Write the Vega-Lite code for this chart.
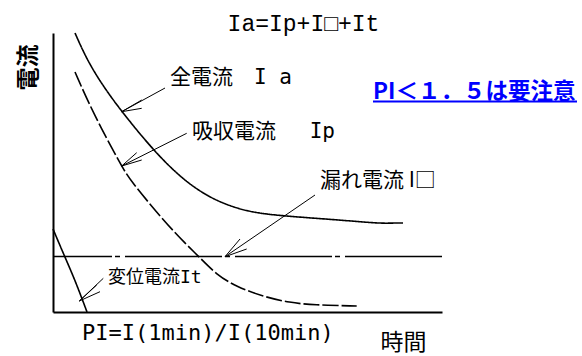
{
  "$schema": "https://vega.github.io/schema/vega-lite/v6.json",
  "autosize": "none",
  "width": 389,
  "height": 279,
  "padding": {"left": 53, "top": 33, "right": 140, "bottom": 44},
  "background": "white",
  "config": {"view": {"stroke": null}},
  "datasets": {
    "curves": [
      {"curve": "Ia", "x": 22, "y": 279},
      {"curve": "Ia", "x": 34, "y": 252},
      {"curve": "Ia", "x": 50, "y": 226},
      {"curve": "Ia", "x": 69, "y": 200},
      {"curve": "Ia", "x": 100, "y": 162},
      {"curve": "Ia", "x": 130, "y": 132},
      {"curve": "Ia", "x": 160, "y": 112},
      {"curve": "Ia", "x": 194, "y": 100},
      {"curve": "Ia", "x": 230, "y": 96},
      {"curve": "Ia", "x": 287, "y": 92},
      {"curve": "Ia", "x": 327, "y": 88.5},
      {"curve": "Ia", "x": 340, "y": 89},
      {"curve": "Ia", "x": 350, "y": 89},
      {"curve": "Ip", "x": 22, "y": 240},
      {"curve": "Ip", "x": 40, "y": 199},
      {"curve": "Ip", "x": 69, "y": 145},
      {"curve": "Ip", "x": 77, "y": 132},
      {"curve": "Ip", "x": 110, "y": 92},
      {"curve": "Ip", "x": 133.7, "y": 67},
      {"curve": "Ip", "x": 145.3, "y": 56},
      {"curve": "Ip", "x": 163.7, "y": 37},
      {"curve": "Ip", "x": 183.7, "y": 25.3},
      {"curve": "Ip", "x": 210.3, "y": 15.3},
      {"curve": "Ip", "x": 237, "y": 9.3},
      {"curve": "Ip", "x": 260.3, "y": 7},
      {"curve": "Ip", "x": 303.7, "y": 6},
      {"curve": "It", "x": 0, "y": 83},
      {"curve": "It", "x": 11, "y": 57},
      {"curve": "It", "x": 22, "y": 32},
      {"curve": "It", "x": 34, "y": 0}
    ],
    "leak": [{"curve": "漏れ電流", "y": 55.5}],
    "arrows": [
      {"arrow": "Ia", "x": 112, "y": 224, "x2": 68.7, "y2": 200.3},
      {"arrow": "Ia", "x": 88.7, "y": 212, "x2": 68.7, "y2": 200.3},
      {"arrow": "Ia", "x": 88.7, "y": 203.7, "x2": 68.7, "y2": 200.3},
      {"arrow": "Ip", "x": 133.7, "y": 178.7, "x2": 68.7, "y2": 146},
      {"arrow": "Ip", "x": 83.7, "y": 159.3, "x2": 68.7, "y2": 146},
      {"arrow": "Ip", "x": 88.7, "y": 152, "x2": 68.7, "y2": 146},
      {"arrow": "Il", "x": 262, "y": 117, "x2": 172, "y2": 55.3},
      {"arrow": "Il", "x": 187, "y": 73, "x2": 172, "y2": 55.3},
      {"arrow": "Il", "x": 193.7, "y": 63, "x2": 172, "y2": 55.3},
      {"arrow": "It", "x": 50.3, "y": 33.7, "x2": 26.3, "y2": 11},
      {"arrow": "It", "x": 43.7, "y": 27, "x2": 26.3, "y2": 11},
      {"arrow": "It", "x": 47, "y": 20.3, "x2": 26.3, "y2": 11}
    ]
  },
  "layer": [
    {
      "data": {"name": "curves"},
      "mark": {"type": "line", "interpolate": "basis", "color": "black", "strokeWidth": 1.6},
      "encoding": {
        "x": {
          "field": "x", "type": "quantitative",
          "scale": {"domain": [0, 389], "nice": false, "zero": false},
          "axis": {
            "domain": true, "domainColor": "black", "domainWidth": 2,
            "ticks": false, "labels": false, "grid": false,
            "title": "時間", "titleFont": "Noto Sans CJK JP", "titleFontSize": 23,
            "titleFontWeight": "normal", "titleColor": "black",
            "titleX": 350, "titleY": 30, "titleAlign": "center", "titleBaseline": "middle"
          }
        },
        "y": {
          "field": "y", "type": "quantitative",
          "scale": {"domain": [0, 279], "nice": false, "zero": false},
          "axis": {
            "domain": true, "domainColor": "black", "domainWidth": 2,
            "ticks": false, "labels": false, "grid": false,
            "title": "電流", "titleFont": "Noto Sans CJK JP", "titleFontSize": 23,
            "titleFontWeight": "bold", "titleColor": "black", "titleAngle": 270,
            "titleX": -25, "titleY": 34, "titleAlign": "center", "titleBaseline": "middle"
          }
        },
        "detail": {"field": "curve"},
        "strokeDash": {
          "field": "curve", "type": "nominal",
          "scale": {"domain": ["Ia", "Ip", "It"], "range": [[1, 0], [16, 3], [1, 0]]},
          "legend": null
        }
      }
    },
    {
      "data": {"name": "leak"},
      "mark": {"type": "rule", "color": "black", "strokeWidth": 1.3, "strokeDash": [97, 5, 5, 3]},
      "encoding": {"y": {"field": "y", "type": "quantitative"}}
    },
    {
      "data": {"name": "arrows"},
      "mark": {"type": "rule", "color": "black", "strokeWidth": 1},
      "encoding": {
        "x": {"field": "x", "type": "quantitative"},
        "y": {"field": "y", "type": "quantitative"},
        "x2": {"field": "x2"},
        "y2": {"field": "y2"}
      }
    },
    {
      "data": {"values": [
        {"label": "全電流　I a", "x": 117, "y": 233.8},
        {"label": "吸収電流　 Ip", "x": 139, "y": 180.3}
      ]},
      "mark": {"type": "text", "align": "left", "baseline": "middle", "font": "DejaVu Sans Mono, Noto Sans CJK JP", "fontSize": 21, "color": "black"},
      "encoding": {
        "x": {"field": "x", "type": "quantitative"},
        "y": {"field": "y", "type": "quantitative"},
        "text": {"field": "label"}
      }
    },
    {
      "data": {"values": [
        {"label": "漏れ電流 I□", "x": 267, "y": 131.3}
      ]},
      "mark": {"type": "text", "align": "left", "baseline": "middle", "font": "Noto Sans CJK JP", "fontSize": 21, "color": "black"},
      "encoding": {
        "x": {"field": "x", "type": "quantitative"},
        "y": {"field": "y", "type": "quantitative"},
        "text": {"field": "label"}
      }
    },
    {
      "data": {"values": [
        {"label": "変位電流It", "x": 55, "y": 33.6}
      ]},
      "mark": {"type": "text", "align": "left", "baseline": "middle", "font": "DejaVu Sans Mono, Noto Sans CJK JP", "fontSize": 18, "color": "black"},
      "encoding": {
        "x": {"field": "x", "type": "quantitative"},
        "y": {"field": "y", "type": "quantitative"},
        "text": {"field": "label"}
      }
    },
    {
      "data": {"values": [
        {"label": "PI=I(1min)/I(10min)", "x": 29, "y": -20.7}
      ]},
      "mark": {"type": "text", "align": "left", "baseline": "middle", "font": "DejaVu Sans Mono", "fontSize": 22, "color": "black"},
      "encoding": {
        "x": {"field": "x", "type": "quantitative"},
        "y": {"field": "y", "type": "quantitative"},
        "text": {"field": "label"}
      }
    },
    {
      "data": {"values": [
        {"label": "Ia=Ip+I□+It", "x": 250.5, "y": 288.3}
      ]},
      "mark": {"type": "text", "align": "center", "baseline": "middle", "font": "Liberation Mono, Noto Sans CJK JP", "fontSize": 23, "color": "black"},
      "encoding": {
        "x": {"field": "x", "type": "quantitative"},
        "y": {"field": "y", "type": "quantitative"},
        "text": {"field": "label"}
      }
    },
    {
      "data": {"values": [
        {"label": "PI＜１．５は要注意", "x": 320, "y": 220.2}
      ]},
      "mark": {"type": "text", "align": "left", "baseline": "middle", "font": "Noto Sans CJK JP", "fontSize": 22.5, "fontWeight": "bold", "color": "#0000ff"},
      "encoding": {
        "x": {"field": "x", "type": "quantitative"},
        "y": {"field": "y", "type": "quantitative"},
        "text": {"field": "label"}
      }
    },
    {
      "data": {"values": [
        {"note": "PI＜１．５は要注意", "x": 320, "x2": 524, "y": 210.5}
      ]},
      "mark": {"type": "rule", "color": "#0000ff", "strokeWidth": 2},
      "encoding": {
        "x": {"field": "x", "type": "quantitative"},
        "x2": {"field": "x2"},
        "y": {"field": "y", "type": "quantitative"}
      }
    }
  ]
}
